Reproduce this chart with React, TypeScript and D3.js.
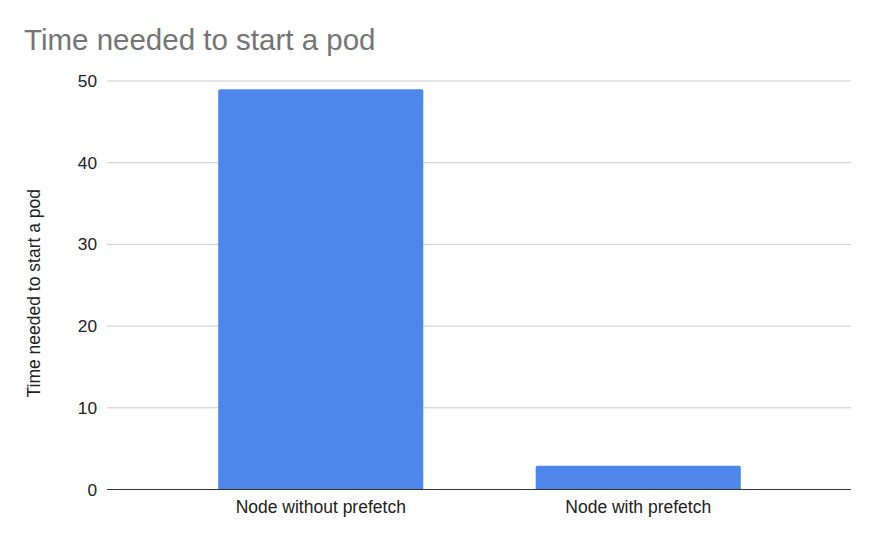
import * as d3 from 'd3';
import React, { useRef, useEffect } from 'react';

const categories = ['Node without prefetch', 'Node with prefetch'];
const seconds = [49, 2.9];
const yTicks = [0, 10, 20, 30, 40, 50];

const title = 'Time needed to start a pod';
const yTitle = 'Time needed to start a pod';

function App() {
  const ref = useRef(null);

  useEffect(() => {
    const width = 879;
    const height = 543;
    const gridLeft = 107;
    const gridRight = 851;
    const top = 81;
    const bottom = 489.5;
    const font = '"Liberation Sans", Arial, sans-serif';

    const svg = d3.select(ref.current);
    svg.selectAll('*').remove();
    svg.attr('viewBox', '0 0 ' + width + ' ' + height);

    const x = d3.scaleBand<string>()
      .domain(categories)
      .range([162, 797])
      .paddingInner(0.354)
      .paddingOuter(0.177);

    const y = d3.scaleLinear()
      .domain([0, 50])
      .range([bottom, top]);

    svg.append('rect')
      .attr('width', width)
      .attr('height', height)
      .attr('fill', '#fff');

    svg.append('text')
      .attr('x', 24)
      .attr('y', 50)
      .attr('font-family', font)
      .attr('font-size', 29.5)
      .attr('fill', '#757575')
      .text(title);

    // gridlines + tick labels
    const grid = svg.append('g');
    grid.selectAll('line')
      .data(yTicks.filter((t) => t !== 0))
      .join('line')
      .attr('x1', gridLeft)
      .attr('x2', gridRight)
      .attr('y1', (d) => y(d))
      .attr('y2', (d) => y(d))
      .attr('stroke', '#cccccc')
      .attr('stroke-width', 1);

    grid.selectAll('text')
      .data(yTicks)
      .join('text')
      .attr('x', 97)
      .attr('y', (d) => y(d) + 6)
      .attr('text-anchor', 'end')
      .attr('font-family', font)
      .attr('font-size', 17.3)
      .attr('fill', '#222')
      .text((d) => d);

    // bars
    svg.append('g')
      .selectAll('path')
      .data(seconds)
      .join('path')
      .attr('fill', '#4f86ec')
      .attr('d', (d, i) => {
        const x0 = x(categories[i]) || 0;
        const w = x.bandwidth();
        const y0 = y(d);
        const r = 2;
        return `M${x0},${bottom}V${y0 + r}Q${x0},${y0} ${x0 + r},${y0}H${x0 + w - r}Q${x0 + w},${y0} ${x0 + w},${y0 + r}V${bottom}Z`;
      });

    // baseline
    svg.append('line')
      .attr('x1', gridLeft)
      .attr('x2', gridRight)
      .attr('y1', bottom)
      .attr('y2', bottom)
      .attr('stroke', '#333')
      .attr('stroke-width', 1.2);

    // category labels
    svg.append('g')
      .selectAll('text')
      .data(categories)
      .join('text')
      .attr('x', (d) => (x(d) || 0) + x.bandwidth() / 2)
      .attr('y', 513)
      .attr('text-anchor', 'middle')
      .attr('font-family', font)
      .attr('font-size', 17.5)
      .attr('fill', '#222')
      .text((d) => d);

    svg.append('text')
      .attr('transform', 'translate(40,' + ((top + bottom) / 2 + 8) + ') rotate(-90)')
      .attr('text-anchor', 'middle')
      .attr('font-family', font)
      .attr('font-size', 17.5)
      .attr('fill', '#222')
      .text(yTitle);
  }, []);

  return (
    <svg
      ref={ref}
      width={879}
      height={543}
      style={{ position: 'absolute', left: 0, top: 0 }}
    />
  );
}

export default App;
